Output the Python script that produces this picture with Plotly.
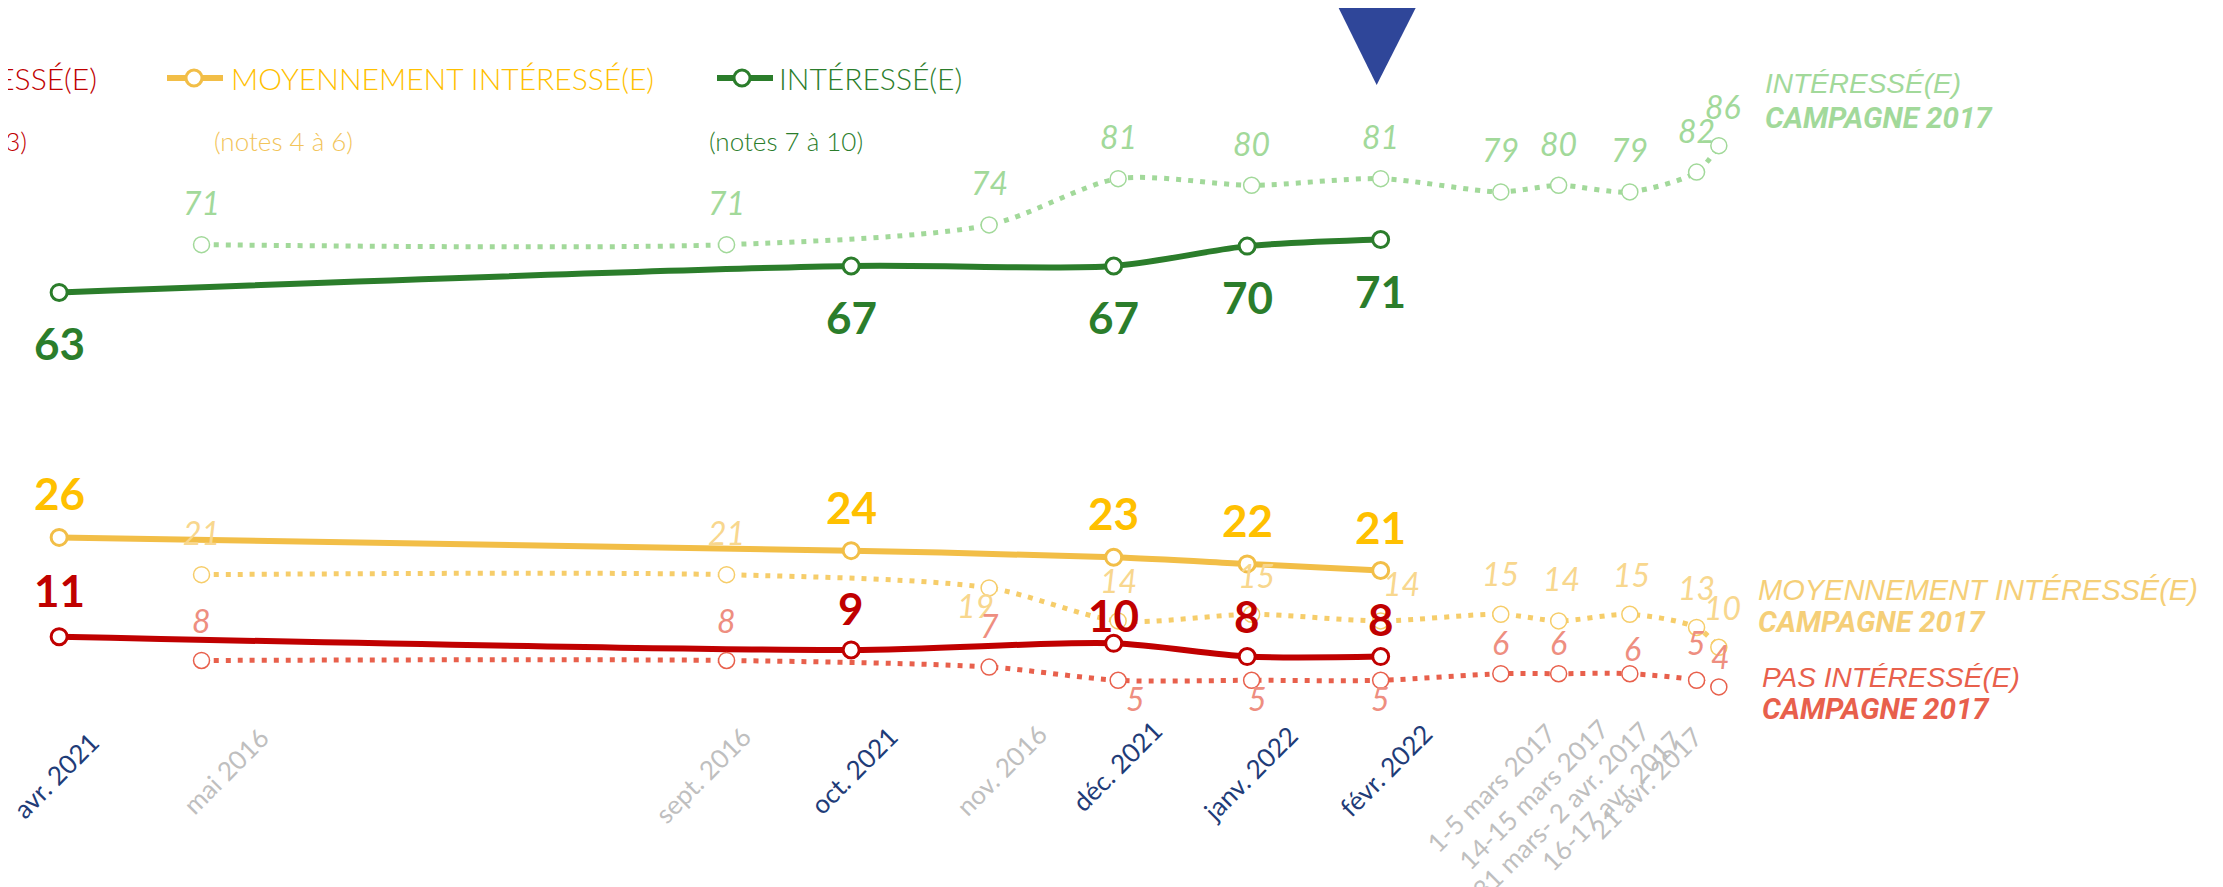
import pandas as pd
import plotly.graph_objects as go

# ---------------- DATA ----------------
# Barometer 2021-2022
dates_2122 = ['2021-04-13', '2021-10-08', '2021-12-06', '2022-01-05', '2022-02-04']
labels_2122 = ['avr. 2021', 'oct. 2021', 'déc. 2021', 'janv. 2022', 'févr. 2022']
interesse_2122 = [63, 67, 67, 70, 71]
moyen_2122 = [26, 24, 23, 22, 21]
pas_2122 = [11, 9, 10, 8, 8]

# Campagne 2017 (plotted 5 years later to align with the 2022 calendar)
dates_2017 = ['2016-05-15', '2016-09-10', '2016-11-08', '2016-12-07', '2017-01-06', '2017-02-04',
              '2017-03-03', '2017-03-16', '2017-04-01', '2017-04-16', '2017-04-21']
labels_2017 = ['mai 2016', 'sept. 2016', 'nov. 2016', '', '', '',
               '1-5 mars 2017', '14-15 mars 2017', '31 mars- 2 avr. 2017', '16-17 avr. 2017', '21 avr. 2017']
interesse_2017 = [71, 71, 74, 81, 80, 81, 79, 80, 79, 82, 86]
moyen_2017 = [21, 21, 19, 14, 15, 14, 15, 14, 15, 13, 10]
pas_2017 = [8, 8, 7, 5, 5, 5, 6, 6, 6, 5, 4]

legend_names = ['PAS INTÉRESSÉ(E)', 'MOYENNEMENT INTÉRESSÉ(E)', 'INTÉRESSÉ(E)']
legend_notes = ['(notes 0 à 3)', '(notes 4 à 6)', '(notes 7 à 10)']
campaign_tag = 'CAMPAGNE 2017'

# ---------------- STYLE / LAYOUT ----------------
W, H = 2223, 887          # browser window
OFF = 8                   # default page body margin
FW, FH = W - OFF, H - OFF # figure size
G_DARK, G_LIGHT = '#2B7D2B', '#A2D99A'
Y_LINE, Y_TEXT, Y_LIGHT_LINE, Y_LIGHT_TEXT = '#F2BE47', '#FFC000', '#F6CD6A', '#F8D78E'
R_DARK, R_LIGHT_LINE, R_LIGHT_TEXT = '#C00000', '#E8604C', '#EE8E80'
BLUE_TICK, GREY_TICK, TRI = '#1F3C78', '#BFBFBF', '#2F4699'
FONT = 'Lato'
CAP_FONT = 'Liberation Sans'
CAP_BOLD_FONT = 'Roboto'

x_2122 = pd.to_datetime(dates_2122)
x_2017 = pd.to_datetime(dates_2017) + pd.DateOffset(years=5)

base_left = pd.Timestamp('2021-03-30 17:00')
span_days = 499.6
x_left = base_left + pd.Timedelta(days=span_days * OFF / W)
x_right = base_left + pd.Timedelta(days=span_days)

# label offsets (pixels: dx right, dy up)
off_int_2122 = [(0, -51)] * 5
off_moy_2122 = [(0, 44)] * 5
off_pas_2122 = [(0, 47), (0, 42), (0, 28), (0, 41), (0, 38)]
off_int_2017 = [(0, 42)] * 10 + [(4, 39)]
off_moy_2017 = [(0, 42), (0, 42), (-14, -18), (0, 40), (5, 39), (21, 37), (0, 41), (3, 42), (2, 40), (0, 40), (4, 40)]
off_pas_2017 = [(0, 40), (0, 40), (0, 42), (17, -18), (6, -18), (0, -18), (0, 31), (0, 31), (3, 25), (0, 38), (2, 30)]

# tick label offsets (dx, dy down) relative to data x and base line
tick_base_y = 770
tick_off_2122 = [(-3, 5), (3, 0), (3, -4), (3, 3), (5, 0)]
tick_off_2017 = [(24, 1), (-24, 5), (12, 0), None, None, None, (-10, 18), (-25, 24), (-69, 40), (-86, 31), (-73, 13)]


def pa(px, py):
    """window pixel -> paper fraction"""
    return (px - OFF) / FW, 1 - (py - OFF) / FH


fig = go.Figure()


def add_series(x, y, color, dotted, yaxis):
    if dotted:
        line = dict(color=color, width=5, dash='5px,7px', shape='spline', smoothing=0.8)
        marker = dict(symbol='circle', size=16, color='white', line=dict(color=color, width=1.5))
    else:
        line = dict(color=color, width=6, shape='spline', smoothing=0.8)
        marker = dict(symbol='circle', size=16, color='white', line=dict(color=color, width=3))
    fig.add_trace(go.Scatter(x=x, y=y, mode='lines+markers', line=line, marker=marker,
                             yaxis=yaxis, hoverinfo='skip', showlegend=False))


add_series(x_2017, interesse_2017, G_LIGHT, True, 'y2')
add_series(x_2017, moyen_2017, Y_LIGHT_LINE, True, 'y2')
add_series(x_2017, pas_2017, R_LIGHT_LINE, True, 'y2')
add_series(x_2122, interesse_2122, G_DARK, False, 'y')
add_series(x_2122, moyen_2122, Y_LINE, False, 'y')
add_series(x_2122, pas_2122, R_DARK, False, 'y')

ann = []


def add_labels(x, y, offs, color, yref, bold):
    for xi, yi, (dx, dy) in zip(x, y, offs):
        f = dict(family=FONT, color=color)
        if bold:
            f.update(size=44, weight=700)
        else:
            f.update(size=32, style='italic', weight=400)
        ann.append(dict(x=xi, y=yi, xref='x', yref=yref, text=str(yi), showarrow=False,
                        xanchor='center', yanchor='middle', xshift=dx, yshift=dy, font=f))


add_labels(x_2017, interesse_2017, off_int_2017, G_LIGHT, 'y2', False)
add_labels(x_2017, moyen_2017, off_moy_2017, Y_LIGHT_TEXT, 'y2', False)
add_labels(x_2017, pas_2017, off_pas_2017, R_LIGHT_TEXT, 'y2', False)
add_labels(x_2122, interesse_2122, off_int_2122, G_DARK, 'y', True)
add_labels(x_2122, moyen_2122, off_moy_2122, Y_TEXT, 'y', True)
add_labels(x_2122, pas_2122, off_pas_2122, R_DARK, 'y', True)


# category labels
def add_ticks(x, labels, offs, color):
    for xi, lab, off in zip(x, labels, offs):
        if not lab or off is None:
            continue
        dx, dy = off
        ann.append(dict(x=xi, y=pa(0, tick_base_y + dy)[1], xref='x', yref='paper', text=lab,
                        showarrow=False, textangle=-45, xanchor='center', yanchor='middle',
                        xshift=dx, font=dict(family=FONT, size=26, color=color)))


add_ticks(x_2122, labels_2122, tick_off_2122, BLUE_TICK)
add_ticks(x_2017, labels_2017, tick_off_2017, GREY_TICK)

# legend (top, partly cut on the left)
leg_y, note_y = 78, 141
shapes = []


def legend_text(px, py, text, anchor, size, color):
    x0, y0 = pa(px, py)
    ann.append(dict(x=x0, y=y0, xref='paper', yref='paper', text=text, showarrow=False,
                    xanchor=anchor, yanchor='middle',
                    font=dict(family=FONT, size=size, weight=300, color=color)))


def legend_symbol(xa, xb, xc, color):
    _, ya = pa(0, leg_y)
    shapes.append(dict(type='line', xref='paper', yref='paper', x0=pa(xa, 0)[0], x1=pa(xb, 0)[0],
                       y0=ya, y1=ya, line=dict(color=color, width=6)))
    shapes.append(dict(type='circle', xref='paper', yref='paper', xsizemode='pixel', ysizemode='pixel',
                       xanchor=pa(xc, 0)[0], yanchor=ya, x0=-8, x1=8, y0=-8, y1=8,
                       fillcolor='white', line=dict(color=color, width=3)))


legend_text(99, leg_y, legend_names[0], 'right', 30, R_DARK)
legend_text(29, note_y, legend_notes[0], 'right', 26, R_DARK)

legend_symbol(167, 223, 194, Y_LINE)
legend_text(229, leg_y, legend_names[1], 'left', 30, Y_TEXT)
legend_text(212, note_y, legend_notes[1], 'left', 26, '#F2C45A')

legend_symbol(717, 773, 742, G_DARK)
legend_text(777, leg_y, legend_names[2], 'left', 30, G_DARK)
legend_text(707, note_y, legend_notes[2], 'left', 26, G_DARK)


# right-hand series captions
def caption(px, py1, py2, name, color, size):
    x0, y0 = pa(px, py1)
    ann.append(dict(x=x0, y=y0, xref='paper', yref='paper', text=name, showarrow=False,
                    xanchor='left', yanchor='middle',
                    font=dict(family=CAP_FONT, size=size, style='italic', color=color)))
    x0, y0 = pa(px, py2)
    ann.append(dict(x=x0, y=y0, xref='paper', yref='paper', text=campaign_tag,
                    showarrow=False, xanchor='left', yanchor='middle',
                    font=dict(family=CAP_BOLD_FONT, size=29.5, style='italic', weight=700, color=color)))


caption(1763, 84, 118, legend_names[2], G_LIGHT, 28)
caption(1756, 590, 622, legend_names[1], '#F5CF78', 29)
caption(1760, 677, 709, legend_names[0], R_LIGHT_LINE, 28)

# current-wave marker (triangle above févr. 2022)
shapes.append(dict(type='path', xref='x', yref='paper', xsizemode='pixel', ysizemode='pixel',
                   xanchor=x_2122[-1], yanchor=1, path='M-42,0 L35,0 L-4,-77 Z',
                   fillcolor=TRI, line=dict(width=0)))

fig.update_layout(
    width=FW, height=FH, margin=dict(l=0, r=0, t=0, b=0),
    paper_bgcolor='white', plot_bgcolor='white', showlegend=False,
    xaxis=dict(type='date', range=[x_left, x_right], visible=False),
    yaxis=dict(range=[-26.81, 105.97], visible=False),
    yaxis2=dict(range=[-26.32, 106.86], visible=False, overlaying='y'),
    annotations=ann, shapes=shapes,
)

fig.write_html('out.html')
